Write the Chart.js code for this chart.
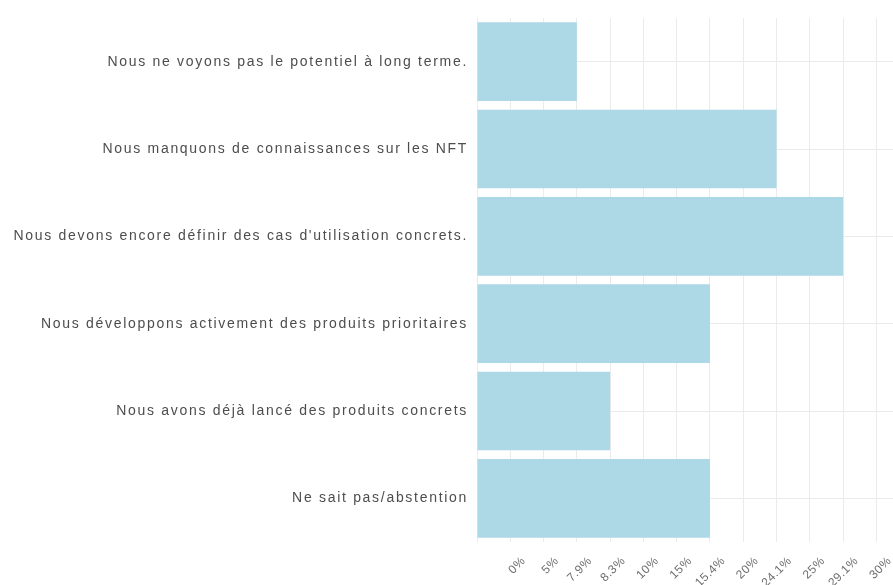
<!DOCTYPE html>
<html>
<head>
<meta charset="utf-8">
<script src="https://cdn.jsdelivr.net/npm/chart.js@4"></script>
<style>
  html, body { margin: 0; padding: 0; background: #fff; }
  #wrap { width: 893px; height: 585px; }
</style>
</head>
<body>
<div id="wrap"><canvas id="chart"></canvas></div>
<script>
// Answers (top to bottom) and their share in %
const categories = [
    'Nous ne voyons pas le potentiel à long terme.',
    'Nous manquons de connaissances sur les NFT',
    'Nous devons encore définir des cas d\'utilisation concrets.',
    'Nous développons activement des produits prioritaires',
    'Nous avons déjà lancé des produits concrets',
    'Ne sait pas/abstention'
];
const shares = [7.9, 24.1, 29.1, 15.4, 8.3, 15.4];

// The x axis is discrete: each tick label sits on its own evenly spaced slot
const tickValues = [0, 5, 7.9, 8.3, 10, 15, 15.4, 20, 24.1, 25, 29.1, 30];
const tickLabels = tickValues.map(v => v + '%');

// slot of a value on the discrete axis (first label is on slot 1)
const slotOf = v => tickValues.indexOf(v) + 1;

// wide letter spacing of the original labels, set per scale
function spaced(spacing) {
    return {
        beforeUpdate: (scale) => {
            scale.ctx.letterSpacing = spacing;
        },
        afterUpdate: (scale) => {
            if (scale._spaced) return;
            const drawLabels = scale.drawLabels;
            scale.drawLabels = function (area) {
                this.ctx.letterSpacing = spacing;
                drawLabels.call(this, area);
                this.ctx.letterSpacing = '0px';
            };
            scale._spaced = true;
        }
    };
}

// keep the plot running to the right edge, labels may overhang
function noOverhang(height) {
    return (scale) => {
        scale.height = height;
        scale.paddingLeft = 0;
        scale.paddingRight = 0;
    };
}

const ctx = document.getElementById('chart');
new Chart(ctx, {
    type: 'bar',
    data: {
        labels: categories,
        datasets: [{
            data: shares.map(slotOf),
            xAxisID: 'x',
            backgroundColor: '#add8e6',
            borderWidth: 0,
            barPercentage: 0.9,
            categoryPercentage: 1
        }]
    },
    options: {
        indexAxis: 'y',
        responsive: true,
        maintainAspectRatio: false,
        animation: false,
        layout: { padding: { top: 18, right: 0, left: 0, bottom: 0 } },
        plugins: {
            legend: { display: false },
            tooltip: { enabled: false }
        },
        scales: {
            // grid only
            x: {
                type: 'linear',
                position: 'bottom',
                min: 0,
                max: 12.5,
                border: { display: false },
                grid: { color: '#ebebeb', lineWidth: 1, drawTicks: false },
                afterBuildTicks: (scale) => {
                    scale.ticks = tickValues.map((v, i) => ({ value: i }))
                        .concat([{ value: tickValues.length }]);
                },
                afterFit: noOverhang(0),
                ticks: { display: false }
            },
            // rotated tick labels, set a little right of their grid line
            xl: {
                type: 'linear',
                position: 'bottom',
                min: 0,
                max: 12.5,
                border: { display: false },
                grid: { display: false, drawTicks: false },
                afterBuildTicks: (scale) => {
                    scale.ticks = tickValues.map((v, i) => ({ value: slotOf(v) + 0.4 }));
                },
                afterFit: noOverhang(43),
                ...spaced('0.5px'),
                ticks: {
                    autoSkip: false,
                    minRotation: 45,
                    maxRotation: 45,
                    padding: 12,
                    color: '#6e6e6e',
                    font: { family: 'Liberation Sans', size: 12 },
                    callback: (value, index) => tickLabels[index]
                }
            },
            y: {
                border: { display: false },
                grid: { color: '#ebebeb', lineWidth: 1, offset: false, drawTicks: false },
                afterFit: (scale) => { scale.width = 477; },
                ...spaced('1.7px'),
                ticks: {
                    padding: 9,
                    color: '#4d4d4d',
                    font: { family: 'Liberation Sans', size: 14 }
                }
            }
        }
    }
});
</script>
</body>
</html>
